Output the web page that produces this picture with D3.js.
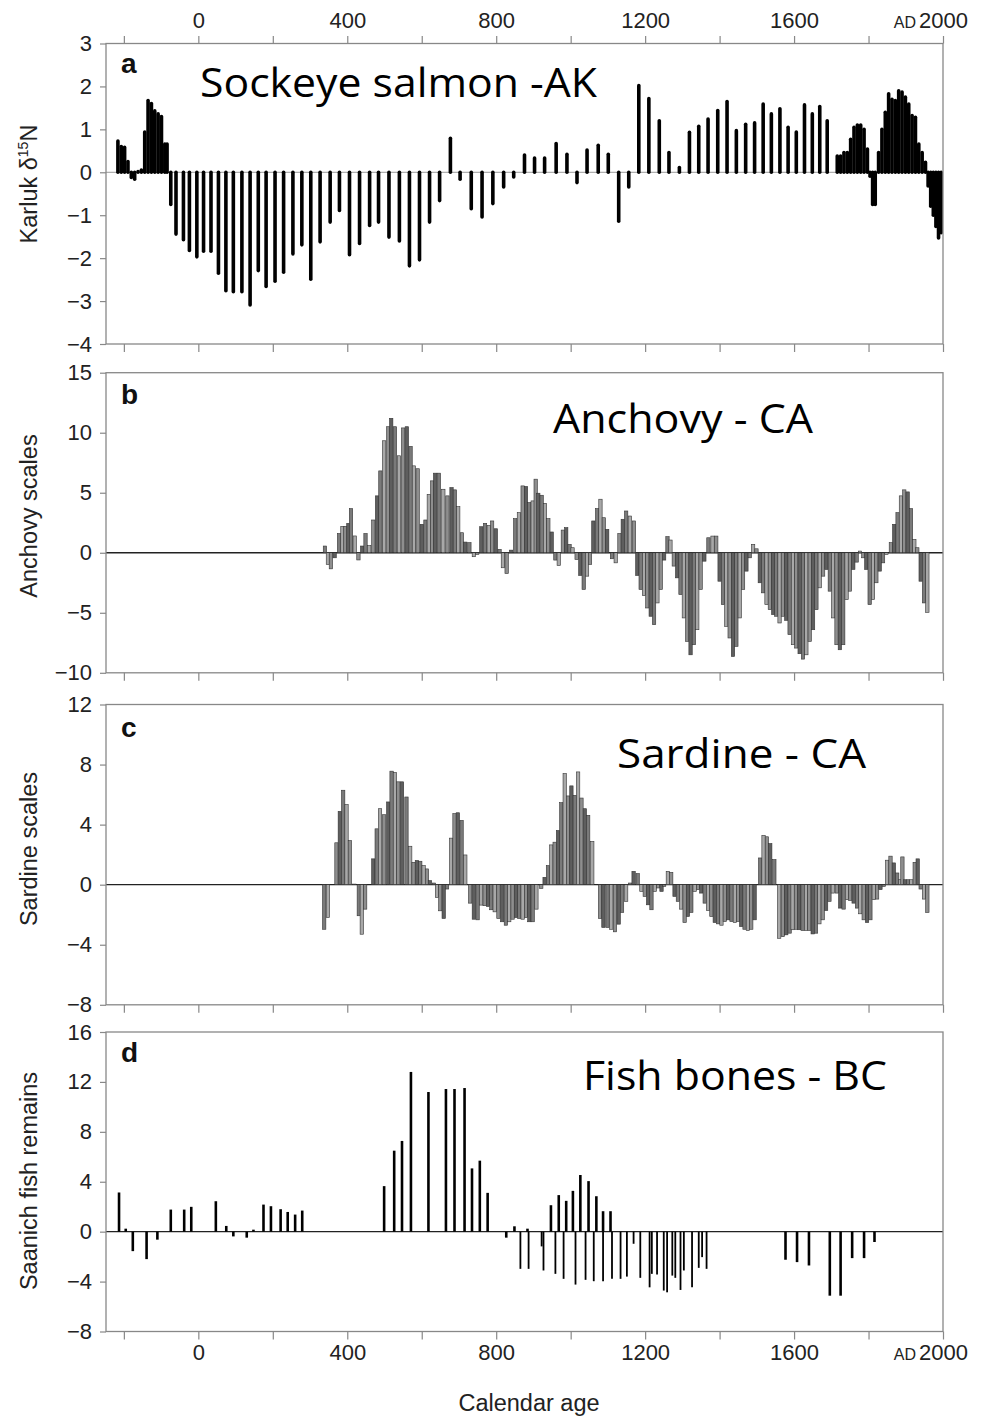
<!DOCTYPE html>
<html>
<head>
<meta charset="utf-8">
<script src="https://cdn.jsdelivr.net/npm/d3@7"></script>
<style>
  body { margin: 0; background: #fff; }
  .tick text { font-family: "Liberation Sans", Arial, sans-serif; font-size: 22px; fill: #222; }
  .tick line { stroke: #888; stroke-width: 1.2; }
  .frame { fill: none; stroke: #888; stroke-width: 1.3; }
  .note { font-family: "Comic Sans MS", "Open Sans", sans-serif; font-size: 40px; fill: #000; }
  .ytitle, .xtitle { font-family: "Liberation Sans", Arial, sans-serif; font-size: 23.5px; fill: #222; }
  .letter { font-family: "Liberation Sans", Arial, sans-serif; font-size: 28px; font-weight: bold; fill: #111; }
</style>
</head>
<body>
<svg width="989" height="1418"></svg>
<script>
// Karluk sockeye salmon d15N
const salmonYears = [-216, -207, -198, -189, -180, -171, -162, -153, -144, -135, -126, -117, -108, -99, -90, -84,
    -74, -60, -40, -24, -4, 14, 34, 54, 74, 94, 117, 139, 161, 182, 206, 229, 254, 278, 302, 327, 354, 379, 406, 433,
    460, 484, 512, 540, 567, 594, 621, 648, 677, 703, 733, 762, 791, 820, 847, 876, 903, 930, 961, 990, 1017, 1044,
    1074, 1101, 1129, 1156, 1183, 1210, 1238, 1264, 1292, 1319, 1344, 1369, 1395, 1420, 1445, 1470, 1494, 1517, 1539,
    1562, 1584, 1606, 1628, 1649, 1669, 1689,
    1716, 1725, 1734, 1743, 1752, 1761, 1770, 1779, 1788, 1797, 1804, 1811, 1818, 1827, 1836, 1845, 1854, 1863, 1872,
    1881, 1890, 1899, 1908, 1917, 1926, 1935, 1944, 1953, 1960, 1967, 1974, 1981, 1988, 1995];
const salmonValues = [0.73, 0.6, 0.58, 0.25, -0.12, -0.16, 0.02, 0.05, 0.94, 1.67, 1.6, 1.43, 1.36, 1.3, 0.66, 0.66,
    -0.75, -1.44, -1.57, -1.82, -1.97, -1.84, -1.84, -2.35, -2.76, -2.78, -2.78, -3.09, -2.29, -2.66, -2.54, -2.33, -1.9,
    -1.69, -2.49, -1.62, -1.16, -0.89, -1.92, -1.66, -1.24, -1.16, -1.51, -1.6, -2.18, -2.04, -1.16, -0.66, 0.79, -0.16,
    -0.85, -1.04, -0.73, -0.34, -0.11, 0.4, 0.33, 0.33, 0.67, 0.42, -0.24, 0.52, 0.63, 0.42, -1.14, -0.34, 2.02, 1.72,
    1.2, 0.46, 0.11, 0.93, 1.07, 1.24, 1.44, 1.65, 0.97, 1.12, 1.15, 1.59, 1.36, 1.48, 1.05, 0.94, 1.57, 1.36, 1.53, 1.2,
    0.38, 0.38, 0.46, 0.46, 0.77, 1.05, 1.1, 1.1, 1.0, 0.54, -0.09, -0.75, -0.75, 0.46, 1.0, 1.4, 1.83, 1.7, 1.67,
    1.9, 1.87, 1.75, 1.59, 1.32, 1.28, 0.66, 0.46, 0.23, -0.32, -0.79, -1.0, -1.26, -1.53, -1.41];

// anchovy scales
const anchovyYears = [340, 348, 356, 366, 378, 387, 395, 403, 410, 420, 430, 440, 449, 459, 470, 480, 489, 499, 510,
    518, 528, 539, 550, 560, 570, 579, 589, 600, 610, 619, 628, 636, 646, 658, 669, 680, 689, 698, 708, 717, 728, 740,
    749, 760, 770, 780, 789, 799, 809, 818, 828, 840, 851, 861, 871, 880, 889, 898, 906, 913, 922, 931, 940, 949, 959,
    968, 979, 988, 997, 1005, 1016, 1026, 1035, 1044, 1052, 1061, 1071, 1080, 1089, 1098, 1111, 1121, 1131, 1140,
    1149, 1159, 1170, 1179, 1188, 1197, 1206, 1215, 1224, 1233, 1242, 1251, 1260, 1268, 1277, 1286, 1295, 1304, 1313,
    1322, 1331, 1340, 1349, 1359, 1370, 1381, 1391, 1400, 1409, 1418, 1427, 1436, 1445, 1454, 1463, 1472, 1481, 1490,
    1499, 1508, 1517, 1526, 1535, 1544, 1552, 1561, 1570, 1579, 1588, 1597, 1606, 1615, 1624, 1633, 1642, 1651, 1660,
    1669, 1678, 1687, 1696, 1705, 1714, 1723, 1732, 1741, 1750, 1759, 1768, 1777, 1786, 1794, 1803, 1812, 1821, 1830,
    1839, 1848, 1860, 1869, 1878, 1887, 1896, 1905, 1914, 1923, 1931, 1940, 1949, 1958];
const anchovyValues = [0.56, -0.97, -1.34, -0.42, 1.6, 2.2, 2.2, 2.45, 3.68, 1.4, -0.6, 0.56, 1.6, 0.6, 2.73, 4.74,
    6.82, 9.33, 10.5, 11.2, 10.5, 8.08, 10.4, 10.5, 8.86, 7.24, 7.0, 2.37, 2.73, 4.87, 5.99, 6.63, 6.63, 5.29, 4.74,
    5.43, 5.24, 3.84, 1.67, 0.89, 0.84, -0.33, -0.14, 2.17, 2.45, 2.28, 2.65, 2.0, 0.28, -1.25, -1.73, 0.22, 2.84, 3.34,
    5.57, 5.52, 4.18, 4.32, 6.13, 4.96, 4.79, 4.12, 2.84, 1.73, -0.61, -1.06, 1.89, 2.09, 0.7, 0.42, -0.56, -1.89, -3.06,
    -1.95, -0.97, 2.65, 3.68, 4.46, 2.92, 1.95, -0.5, -0.84, 1.6, 2.79, 3.48, 3.06, 2.65, -1.89, -3.06, -3.57, -4.6,
    -5.29, -5.99, -4.18, -3.06, -0.61, 1.34, 1.06, -1.11, -2.09, -3.48, -5.43, -7.38, -8.5, -7.66, -6.41, -3.06, -0.7,
    1.25, 1.39, 1.39, -2.37, -4.32, -6.13, -7.1, -8.64, -7.8, -5.43, -3.06, -1.53, -0.42, 0.7, 0.33, -2.5, -3.34, -4.32,
    -4.74, -5.15, -5.29, -5.85, -5.29, -5.63, -6.82, -7.66, -7.94, -8.41, -8.86, -8.5, -7.38, -6.41, -4.74, -2.92,
    -1.95, -1.39, -3.2, -5.43, -7.66, -8.08, -7.66, -3.9, -3.2, -1.39, -0.78, 0.14, -0.42, -1.39, -4.32, -3.9, -2.5,
    -1.53, -0.84, -0.14, 0.84, 2.37, 3.34, 4.74, 5.24, 5.07, 3.68, 1.11, 0.42, -2.37, -4.18, -4.96];

// sardine scales
const sardineYears = [338, 348, 371, 380, 389, 398, 407, 419, 431, 439, 448, 470, 479, 488, 499, 510, 519, 528, 537,
    547, 559, 569, 578, 587, 596, 605, 614, 622, 633, 641, 650, 659, 668, 679, 688, 697, 707, 717, 730, 740, 750, 760,
    769, 778, 787, 796, 806, 816, 826, 835, 844, 853, 862, 871, 880, 889, 898, 908, 921, 930, 939, 948, 957, 966, 975,
    984, 993, 1002, 1011, 1020, 1029, 1038, 1047, 1058, 1079, 1088, 1099, 1109, 1119, 1129, 1138, 1149, 1160, 1169,
    1180, 1190, 1199, 1208, 1217, 1226, 1235, 1244, 1251, 1261, 1270, 1279, 1288, 1297, 1306, 1315, 1324, 1333, 1342,
    1351, 1360, 1369, 1378, 1387, 1396, 1405, 1414, 1423, 1432, 1441, 1450, 1458, 1467, 1476, 1485, 1494, 1509, 1518,
    1527, 1536, 1547, 1560, 1570, 1579, 1588, 1596, 1605, 1614, 1623, 1632, 1641, 1650, 1659, 1668, 1677, 1686, 1695,
    1704, 1715, 1724, 1733, 1742, 1751, 1760, 1769, 1778, 1787, 1796, 1805, 1814, 1823, 1832, 1841, 1850, 1859, 1868,
    1877, 1885, 1891, 1898, 1906, 1915, 1924, 1932, 1940, 1949, 1958];
const sardineValues = [-2.97, -2.19, 2.79, 4.88, 6.29, 5.33, 2.94, 0.04, -2.07, -3.3, -1.63, 1.72, 3.72, 5.06, 4.66,
    5.51, 7.56, 7.47, 6.85, 6.85, 5.84, 2.56, 1.49, 1.61, 1.56, 1.27, 1.05, 0.27, 0.11, -0.85, -1.74, -2.25, -0.29, 3.1,
    4.73, 4.79, 4.28, 1.98, -1.23, -2.3, -2.34, -1.36, -1.4, -1.45, -1.67, -1.81, -2.25, -2.47, -2.7, -2.47, -2.3, -2.19,
    -2.25, -2.3, -2.19, -2.47, -2.47, -1.63, -0.25, 0.49, 1.27, 2.65, 2.83, 3.61, 5.46, 7.4, 5.91, 6.58, 5.95, 7.51, 5.77,
    5.06, 4.62, 2.88, -2.25, -2.85, -2.85, -2.97, -3.14, -2.63, -1.85, -1.11, 0.11, 0.89, 0.74, -0.45, -0.78, -1.34,
    -1.67, -0.45, -0.22, -0.45, -0.11, 0.89, 0.82, -0.78, -1.11, -1.63, -2.52, -2.12, -1.85, -0.45, -0.33, -0.56, -1.23,
    -1.72, -2.12, -2.52, -2.61, -2.7, -2.45, -2.34, -2.45, -2.52, -2.45, -2.79, -2.97, -3.05, -2.97, -2.34, 1.78, 3.28,
    3.19, 2.74, 1.67, -3.57, -3.46, -3.34, -3.23, -3.0, -2.97, -3.0, -3.05, -3.05, -3.05, -3.28, -3.23, -2.61, -2.34,
    -1.72, -1.11, -0.56, -0.56, -1.56, -1.63, -1.0, -1.05, -1.23, -1.56, -1.94, -2.34, -2.52, -2.34, -1.0, -0.96, -0.33,
    -0.11, 1.63, 1.9, 1.45, 0.78, 0.33, 1.85, 0.33, 0.33, 0.33, 1.49, 1.72, -0.29, -0.96, -1.85];

// Saanich fish remains
const fishYears = [-213, -195, -176, -139, -110, -74, -38, -19, 47, 75, 94, 130, 148, 175, 195, 221, 240, 260, 279,
    499, 526, 547, 571, 618, 665, 688, 715, 735, 756, 777, 827, 849, 865, 884, 887, 922, 927, 947, 959, 968, 981, 988,
    1006, 1013, 1026, 1040, 1048, 1062, 1069, 1087, 1087, 1107, 1111, 1134, 1151, 1169, 1187, 1212, 1218, 1232, 1250,
    1259, 1273, 1281, 1295, 1304, 1326, 1344, 1353, 1365, 1577, 1608, 1640, 1696, 1725, 1756, 1788, 1816];
const fishValues = [3.14, 0.24, -1.56, -2.2, -0.64, 1.77, 1.77, 1.99, 2.44, 0.46, -0.38, -0.48, 0.16, 2.17, 2.04, 1.8,
    1.58, 1.37, 1.69, 3.65, 6.49, 7.27, 12.8, 11.19, 11.43, 11.43, 11.51, 5.07, 5.69, 3.11, -0.48, 0.43, -2.98, 0.24,
    -2.98, -1.18, -3.11, 2.12, -3.38, 2.93, -3.78, 2.47, 3.27, -4.24, 4.54, -3.86, 4.05, -3.97, 2.84, 1.64, -3.97, 1.64,
    -3.78, -3.78, -3.6, -0.97, -3.7, -4.46, -3.38, -3.44, -4.72, -4.86, -3.52, -3.7, -4.67, -3.11, -4.46, -2.9, -2.04,
    -2.98, -2.25, -2.44, -2.71, -5.13, -5.13, -2.12, -2.12, -0.83];

const xTicks = [-200, 0, 200, 400, 600, 800, 1000, 1200, 1400, 1600, 1800, 2000];
const xLabels = [0, 400, 800, 1200, 1600, 2000];

const panels = [
    { id: "a", years: salmonYears, values: salmonValues, domain: [-4, 3], ticks: [-4, -3, -2, -1, 0, 1, 2, 3],
      title: "Karluk", note: "Sockeye salmon -AK", top: 43.5, bottom: 344, kind: "salmon" },
    { id: "b", years: anchovyYears, values: anchovyValues, domain: [-10, 15], ticks: [-10, -5, 0, 5, 10, 15],
      title: "Anchovy scales", note: "Anchovy - CA", top: 372.7, bottom: 672.8, kind: "scales" },
    { id: "c", years: sardineYears, values: sardineValues, domain: [-8, 12], ticks: [-8, -4, 0, 4, 8, 12],
      title: "Sardine scales", note: "Sardine - CA", top: 704.5, bottom: 1004.8, kind: "scales" },
    { id: "d", years: fishYears, values: fishValues, domain: [-8, 16], ticks: [-8, -4, 0, 4, 8, 12, 16],
      title: "Saanich fish remains", note: "Fish bones - BC", top: 1032, bottom: 1331.5, kind: "fish" }
];

// where the hand-written notes and panel letters sit
const notePos = [[200, 97, 397], [553, 433, 260], [617, 768, 249], [583, 1090, 304]];
const letterPos = [[121, 73], [121, 404], [121, 737], [121, 1062]];
const titleY = [184, 516, 849, 1181];

const svg = d3.select("svg");
const left = 106, right = 943;
const x = d3.scaleLinear().domain([-248, 2000]).range([left, right]);
const fmt = d => d < 0 ? "\u2212" + Math.abs(d) : String(d);
const shades = ["#7a7a7a", "#a8a8a8", "#8e8e8e", "#5e5e5e"];

svg.append("rect").attr("width", 989).attr("height", 1418).attr("fill", "#fff");

panels.forEach((p, i) => {
    const y = d3.scaleLinear().domain(p.domain).range([p.bottom, p.top]);
    const g = svg.append("g");
    const data = p.years.map((yr, k) => ({ year: yr, value: p.values[k] }));

    // zero line
    g.append("line")
        .attr("x1", left).attr("x2", right)
        .attr("y1", y(0)).attr("y2", y(0))
        .attr("stroke", p.kind === "salmon" ? "#999" : "#222")
        .attr("stroke-width", p.kind === "salmon" ? 1 : 1.3);

    if (p.kind === "salmon") {
        g.append("g").selectAll("line")
            .data(data)
            .join("line")
            .attr("x1", d => x(d.year)).attr("x2", d => x(d.year))
            .attr("y1", y(0)).attr("y2", d => y(d.value))
            .attr("stroke", "#000")
            .attr("stroke-width", 3.6)
            .attr("stroke-linecap", "round");
    } else if (p.kind === "scales") {
        const w = x(9) - x(0);
        g.append("g").selectAll("rect")
            .data(data)
            .join("rect")
            .attr("x", d => x(d.year) - w / 2)
            .attr("width", w)
            .attr("y", d => Math.min(y(0), y(d.value)))
            .attr("height", d => Math.abs(y(d.value) - y(0)))
            .attr("fill", (d, k) => shades[k % shades.length])
            .attr("stroke", "#333")
            .attr("stroke-width", 0.6);
    } else {
        g.append("g").selectAll("line")
            .data(data)
            .join("line")
            .attr("x1", d => x(d.year)).attr("x2", d => x(d.year))
            .attr("y1", y(0)).attr("y2", d => y(d.value))
            .attr("stroke", "#000")
            .attr("stroke-width", d => d.value < 0 && d.year > 860 && d.year < 1400 ? 1.8 : 2.6);
    }

    // frame
    g.append("rect").attr("class", "frame")
        .attr("x", left).attr("y", p.top)
        .attr("width", right - left).attr("height", p.bottom - p.top);

    // y axis
    const ya = g.append("g")
        .attr("transform", `translate(${left},0)`)
        .call(d3.axisLeft(y).tickValues(p.ticks).tickSize(6).tickPadding(8).tickFormat(fmt));
    ya.select(".domain").remove();

    // bottom ticks
    const last = i === panels.length - 1;
    const xb = g.append("g")
        .attr("transform", `translate(0,${p.bottom})`)
        .call(d3.axisBottom(x).tickValues(xTicks).tickSize(8).tickPadding(5)
            .tickFormat(d => last && xLabels.includes(d) ? String(d) : ""));
    xb.select(".domain").remove();
    if (last) {
        g.append("text").attr("class", "xtitle")
            .attr("x", x(2000) - 27).attr("y", p.bottom + 28.5)
            .attr("text-anchor", "end").style("font-size", "16px").text("AD");
    }

    if (i === 0) {
        const xt = g.append("g")
            .attr("transform", `translate(0,${p.top})`)
            .call(d3.axisTop(x).tickValues(xTicks).tickSize(7.5).tickPadding(8)
                .tickFormat(d => xLabels.includes(d) ? String(d) : ""));
        xt.select(".domain").remove();
        g.append("text").attr("class", "xtitle")
            .attr("x", x(2000) - 27).attr("y", p.top - 15.5)
            .attr("text-anchor", "end").style("font-size", "16px").text("AD");
    }

    // y title
    const t = g.append("text").attr("class", "ytitle")
        .attr("transform", `translate(37,${titleY[i]}) rotate(-90)`)
        .attr("text-anchor", "middle");
    if (p.kind === "salmon") {
        t.append("tspan").text("Karluk \u03b4");
        t.append("tspan").attr("dy", -9).style("font-size", "14px").text("15");
        t.append("tspan").attr("dy", 9).text("N");
    } else {
        t.text(p.title);
    }

    g.append("text").attr("class", "letter")
        .attr("x", letterPos[i][0]).attr("y", letterPos[i][1]).text(p.id);

    g.append("text").attr("class", "note")
        .attr("x", notePos[i][0]).attr("y", notePos[i][1])
        .attr("textLength", notePos[i][2]).attr("lengthAdjust", "spacingAndGlyphs")
        .text(p.note);
});

svg.append("text").attr("class", "xtitle")
    .attr("x", 529).attr("y", 1411)
    .attr("text-anchor", "middle")
    .text("Calendar age");
</script>
</body>
</html>
